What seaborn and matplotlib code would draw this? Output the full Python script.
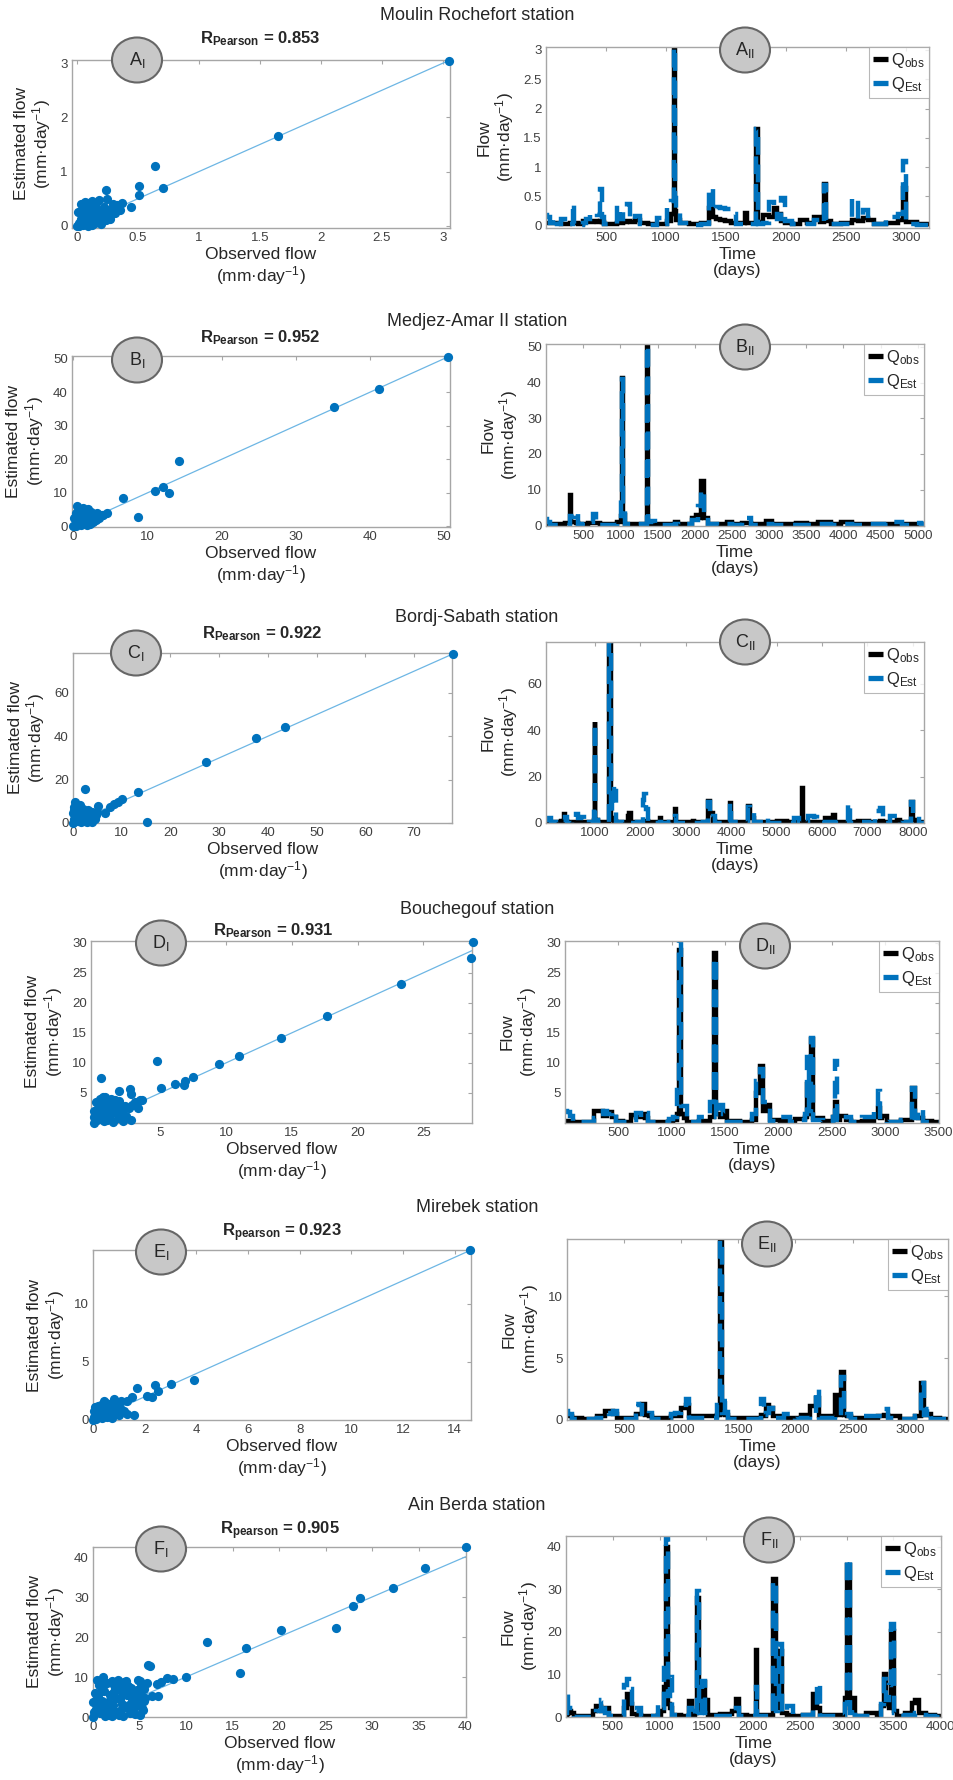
import matplotlib
matplotlib.use('Agg')
import matplotlib.pyplot as plt
from matplotlib.patches import Ellipse
import seaborn as sns

# ---- chart text ----
stations = ['Moulin Rochefort station', 'Medjez-Amar II station', 'Bordj-Sabath station',
            'Bouchegouf station', 'Mirebek station', 'Ain Berda station']
letters = ['A', 'B', 'C', 'D', 'E', 'F']
r_pearson = [0.853, 0.952, 0.922, 0.931, 0.923, 0.905]
r_word = ['Pearson', 'Pearson', 'Pearson', 'Pearson', 'pearson', 'pearson']

# ---- scatter data: (observed, estimated) ----
sc_a = [(3.05, 3.05), (1.65, 1.65), (0.64, 1.10), (0.71, 0.69), (0.51, 0.73), (0.51, 0.57),
        (0.44, 0.35), (0.24, 0.66), (0.25, 0.50), (0.37, 0.43), (0.30, 0.40),
        (0.00, 0.00), (0.02, 0.05), (0.03, 0.12), (0.05, 0.20), (0.04, 0.30), (0.06, 0.38),
        (0.08, 0.42), (0.10, 0.35), (0.12, 0.45), (0.13, 0.25), (0.15, 0.15), (0.17, 0.30),
        (0.18, 0.48), (0.20, 0.20), (0.22, 0.35), (0.24, 0.10), (0.26, 0.30), (0.28, 0.22),
        (0.30, 0.33), (0.33, 0.38), (0.35, 0.30), (0.02, 0.00), (0.05, 0.02), (0.08, 0.05),
        (0.10, 0.10), (0.12, 0.02), (0.15, 0.05), (0.18, 0.08), (0.20, 0.04), (0.06, 0.10),
        (0.09, 0.25), (0.11, 0.18), (0.14, 0.38), (0.07, 0.44), (0.16, 0.22), (0.19, 0.12),
        (0.23, 0.26), (0.01, 0.25), (0.03, 0.40), (0.09, 0.00), (0.27, 0.13), (0.31, 0.24),
        (0.04, 0.18), (0.13, 0.32), (0.21, 0.28), (0.16, 0.42), (0.10, 0.28), (0.25, 0.20)]
sc_b = [(50.5, 50.5), (41.2, 41.0), (35.2, 35.5), (14.3, 19.5), (12.1, 11.8), (11.0, 10.4),
        (12.9, 10.0), (6.7, 8.3), (8.7, 2.7), (4.5, 4.0),
        (0.0, 0.0), (0.2, 0.5), (0.3, 1.5), (0.5, 3.0), (0.5, 6.0), (0.7, 4.5), (0.8, 2.0),
        (1.0, 5.0), (1.0, 0.3), (1.2, 3.5), (1.3, 1.0), (1.5, 4.5), (1.6, 2.5), (1.8, 0.5),
        (2.0, 5.2), (2.1, 3.0), (2.3, 1.5), (2.5, 2.5), (2.8, 3.2), (3.0, 1.8), (3.2, 4.0),
        (3.5, 2.5), (3.8, 3.3), (0.1, 2.5), (0.4, 0.2), (0.6, 1.0), (0.9, 3.8), (1.4, 2.0),
        (1.7, 4.0), (2.2, 0.8), (2.6, 1.2), (3.3, 2.9), (4.0, 3.5), (0.3, 4.0), (1.1, 1.8),
        (1.9, 1.5), (2.4, 4.3), (1.3, 5.6), (0.8, 5.3)]
sc_c = [(78.0, 78.0), (43.5, 44.3), (37.5, 39.0), (27.3, 28.0), (13.3, 14.5), (15.2, 0.3),
        (2.4, 15.6), (10.0, 11.0), (9.2, 9.5), (8.5, 8.8), (7.5, 7.4), (6.5, 4.5),
        (0.0, 0.0), (0.2, 2.0), (0.3, 6.0), (0.5, 9.5), (0.7, 4.0), (0.8, 8.0), (1.0, 1.0),
        (1.2, 5.0), (1.3, 7.0), (1.5, 3.0), (1.7, 0.5), (2.0, 6.5), (2.2, 2.0), (2.5, 4.0),
        (2.8, 0.3), (3.0, 6.0), (3.3, 3.0), (3.6, 1.0), (4.0, 0.3), (4.2, 4.5), (4.6, 2.0),
        (5.0, 5.0), (5.2, 8.0), (0.4, 3.5), (0.9, 5.5), (1.4, 8.5), (1.8, 2.8), (2.4, 0.8),
        (3.8, 5.2), (0.1, 4.5), (0.6, 1.2), (1.1, 3.2), (4.8, 3.5), (2.9, 5.0), (1.6, 6.2),
        (0.3, 7.5), (3.4, 2.2), (2.6, 1.5)]
sc_d = [(28.8, 30.2), (28.6, 27.5), (23.3, 23.2), (17.7, 17.8), (14.2, 14.1), (11.0, 11.2),
        (9.5, 9.8), (7.5, 7.6), (6.9, 7.0), (6.8, 6.4), (6.1, 6.5), (5.1, 5.9), (4.8, 10.3),
        (3.6, 3.8), (3.2, 3.0), (2.8, 0.5), (2.7, 5.6), (2.8, 4.8), (1.9, 5.3), (0.5, 7.5),
        (0.0, 0.0), (0.0, 1.0), (0.0, 2.0), (0.1, 3.5), (0.2, 0.5), (0.3, 2.5), (0.4, 4.0),
        (0.5, 1.5), (0.6, 3.0), (0.7, 0.3), (0.8, 4.3), (0.9, 2.0), (1.0, 3.5), (1.1, 1.0),
        (1.2, 2.8), (1.3, 4.0), (1.4, 0.2), (1.5, 3.2), (1.6, 1.8), (1.7, 2.5), (1.8, 0.8),
        (1.9, 3.6), (2.0, 1.5), (2.1, 2.2), (2.3, 2.8), (2.4, 1.2), (2.6, 2.5), (2.9, 3.0),
        (3.1, 3.5), (3.3, 2.5), (3.5, 3.8), (0.2, 1.2), (0.5, 2.6), (0.8, 1.0), (1.0, 0.5),
        (1.3, 1.6), (1.6, 3.9), (2.2, 0.3), (0.35, 3.2), (1.15, 2.3), (0.65, 4.4), (2.0, 2.8)]
sc_e = [(14.6, 14.6), (3.9, 3.45), (3.0, 3.1), (2.4, 3.0), (2.5, 2.5), (2.3, 2.0), (2.1, 2.05),
        (1.7, 2.75), (1.6, 0.45), (1.5, 2.0), (1.3, 1.6), (1.3, 0.5), (1.0, 0.4), (0.8, 1.8),
        (0.0, 0.0), (0.05, 0.3), (0.1, 0.6), (0.12, 0.1), (0.15, 0.9), (0.2, 1.2), (0.25, 0.4),
        (0.3, 0.8), (0.32, 1.3), (0.35, 0.15), (0.4, 1.0), (0.45, 0.6), (0.5, 1.5), (0.55, 0.3),
        (0.6, 1.1), (0.65, 0.7), (0.7, 1.4), (0.75, 0.2), (0.85, 0.9), (0.9, 1.2), (1.1, 1.6),
        (1.2, 0.8), (0.02, 0.8), (0.18, 0.5), (0.28, 1.05), (0.38, 0.35), (0.48, 0.85),
        (0.58, 1.35), (0.68, 0.45), (0.95, 1.45), (1.05, 1.0), (0.08, 1.1), (0.42, 1.6), (0.72, 1.0)]
sc_f = [(40.1, 42.5), (35.7, 37.2), (32.3, 32.2), (28.7, 29.7), (27.9, 27.8), (26.1, 22.3),
        (20.2, 21.8), (16.5, 17.2), (15.8, 10.9), (12.3, 18.8), (10.0, 10.1), (8.6, 9.6),
        (8.0, 9.8), (7.3, 8.8), (6.9, 8.3), (5.9, 13.0), (6.1, 12.8), (7.0, 5.2), (6.3, 5.2),
        (5.8, 8.5), (5.5, 4.0), (5.0, 9.0),
        (0.0, 0.0), (0.0, 3.7), (0.3, 2.0), (0.5, 5.0), (0.6, 8.0), (0.8, 1.0), (1.0, 4.0),
        (1.1, 10.0), (1.2, 6.5), (1.4, 2.5), (1.5, 8.5), (1.7, 0.5), (1.8, 5.5), (2.0, 9.0),
        (2.2, 3.0), (2.4, 7.0), (2.6, 1.2), (2.7, 9.2), (2.9, 4.5), (3.0, 6.5), (3.2, 0.3),
        (3.3, 8.8), (3.5, 2.5), (3.7, 5.5), (3.8, 7.8), (4.0, 1.0), (4.2, 4.0), (4.4, 6.5),
        (4.6, 3.0), (4.8, 9.3), (5.0, 0.5), (5.1, 5.8), (5.3, 2.2), (5.5, 7.0), (0.2, 6.0),
        (0.7, 3.0), (0.9, 6.5), (1.3, 0.3), (1.6, 3.8), (2.1, 6.0), (2.5, 4.8), (2.8, 0.4),
        (3.1, 3.3), (3.6, 9.0), (4.1, 7.2), (4.5, 0.8), (4.9, 4.3), (5.2, 8.2), (0.4, 9.2),
        (1.9, 2.0), (3.9, 3.0), (5.4, 1.8), (2.3, 8.0), (0.1, 1.2), (1.0, 7.5), (4.3, 5.0),
        (5.6, 4.8), (3.4, 6.2), (2.0, 0.2), (0.6, 1.8), (1.5, 1.2), (2.2, 5.2), (3.0, 1.8),
        (3.9, 5.6), (4.7, 6.8), (1.2, 8.8), (2.9, 7.6), (0.3, 4.2), (4.4, 2.2)]

# ---- time series data: (day, Q_obs, Q_est) ----
ts_a = [(1, 0.05, 0.18), (20, 0.04, 0.15), (40, 0.04, 0.05), (75, 0.05, 0.13), (100, 0.04, 0.03),
        (150, 0.03, 0.12), (170, 0.03, 0.01), (222, 0.04, 0.02), (228, 0.05, 0.38), (236, 0.04, 0.02),
        (300, 0.02, 0.01), (320, 0.08, 0.05), (350, 0.06, 0.12), (380, 0.07, 0.20), (410, 0.08, 0.21),
        (440, 0.07, 0.18), (458, 0.08, 0.62), (470, 0.06, 0.15), (500, 0.03, 0.02), (580, 0.03, 0.02),
        (595, 0.04, 0.36), (620, 0.05, 0.12), (660, 0.07, 0.25), (690, 0.08, 0.37), (710, 0.06, 0.10),
        (765, 0.10, 0.17), (800, 0.04, 0.03), (900, 0.02, 0.01), (950, 0.03, 0.13), (980, 0.03, 0.02),
        (1030, 0.08, 0.30), (1060, 0.20, 0.42), (1068, 3.05, 3.05), (1076, 0.25, 0.47),
        (1095, 0.10, 0.30), (1130, 0.05, 0.05), (1250, 0.02, 0.01), (1330, 0.04, 0.03),
        (1380, 0.30, 0.65), (1395, 0.15, 0.25), (1430, 0.12, 0.32), (1470, 0.10, 0.30),
        (1520, 0.08, 0.28), (1560, 0.05, 0.20), (1600, 0.04, 0.03), (1650, 0.05, 0.03),
        (1665, 0.22, 0.05), (1680, 0.05, 0.03), (1740, 0.05, 0.03), (1755, 1.65, 1.65),
        (1775, 0.06, 0.03), (1840, 0.19, 0.05),
        (1880, 0.15, 0.40), (1910, 0.30, 0.35), (1940, 0.20, 0.12), (1975, 0.08, 0.48),
        (2010, 0.05, 0.08), (2080, 0.03, 0.02), (2145, 0.10, 0.02), (2200, 0.05, 0.03),
        (2260, 0.15, 0.10), (2300, 0.06, 0.05), (2325, 0.71, 0.69), (2345, 0.08, 0.10),
        (2400, 0.03, 0.02), (2520, 0.04, 0.03), (2580, 0.10, 0.48), (2620, 0.08, 0.12),
        (2660, 0.13, 0.27), (2700, 0.10, 0.12), (2760, 0.03, 0.02), (2900, 0.04, 0.15),
        (2960, 0.10, 0.20), (2985, 0.64, 1.10), (3010, 0.07, 0.05), (3060, 0.06, 0.02),
        (3120, 0.02, 0.01), (3190, 0.02, 0.01)]
ts_b = [(1, 0.5, 1.8), (30, 0.4, 0.8), (80, 0.3, 0.2), (200, 0.4, 0.1), (320, 0.6, 0.2),
        (335, 8.5, 2.5), (350, 1.0, 2.2), (400, 0.8, 3.5), (420, 0.6, 3.7), (440, 0.4, 0.3),
        (520, 0.3, 0.1), (620, 0.6, 1.0), (655, 0.7, 3.3), (680, 0.6, 0.4), (780, 0.3, 0.1),
        (900, 0.3, 0.1), (1000, 1.0, 1.5), (1012, 2.5, 8.0), (1035, 41.2, 41.0), (1050, 3.0, 4.0),
        (1080, 0.5, 0.5), (1200, 0.3, 0.1), (1350, 0.5, 0.5), (1365, 50.5, 50.5), (1380, 0.6, 1.0),
        (1440, 0.5, 1.3), (1500, 0.3, 0.2), (1700, 0.3, 0.1), (1760, 1.0, 0.4), (1800, 0.3, 0.2),
        (1950, 0.5, 0.3), (1990, 2.0, 1.5), (2035, 3.0, 1.5), (2060, 2.0, 5.5), (2100, 12.5, 10.0),
        (2150, 2.0, 3.5), (2200, 0.5, 0.3), (2400, 0.3, 0.1), (2475, 1.0, 0.3), (2520, 0.3, 0.1),
        (2745, 0.6, 2.0), (2780, 0.3, 0.1), (2900, 0.3, 0.1), (3015, 1.3, 0.3), (3060, 0.5, 0.2),
        (3300, 0.3, 0.1), (3420, 0.6, 0.2), (3600, 0.3, 0.1), (3710, 1.0, 0.3), (3775, 0.8, 0.3),
        (3900, 0.3, 0.2), (4045, 1.0, 0.3), (4200, 0.3, 0.2), (4495, 0.3, 0.5), (4600, 0.3, 0.2),
        (4740, 0.4, 0.8), (4850, 0.3, 0.2), (5010, 0.4, 0.6), (5085, 0.3, 0.3)]
ts_c = [(-80, 0.5, 1.5), (0, 0.4, 2.0), (60, 0.3, 0.5), (200, 0.3, 0.2), (300, 1.0, 1.5),
        (315, 4.0, 1.5), (350, 1.0, 2.5), (420, 0.3, 0.2), (560, 0.4, 0.3), (595, 0.5, 4.0),
        (650, 0.5, 2.0), (730, 0.6, 2.5), (780, 0.3, 0.2), (950, 0.5, 0.3), (985, 1.5, 6.0),
        (1000, 43.5, 43.0), (1015, 1.5, 1.5), (1100, 0.5, 0.2), (1300, 0.5, 0.5), (1330, 78.0, 78.0),
        (1360, 2.0, 4.0), (1405, 1.5, 16.0), (1440, 1.0, 14.0), (1480, 0.5, 0.3), (1700, 0.5, 0.2),
        (1735, 3.0, 0.3), (1775, 4.5, 0.5), (1820, 0.5, 0.2), (2040, 0.4, 0.3), (2070, 0.5, 10.0),
        (2105, 0.8, 12.5), (2140, 0.8, 6.0), (2200, 0.4, 0.3), (2420, 0.4, 0.2), (2440, 2.2, 0.3),
        (2460, 0.4, 0.2), (2500, 0.4, 0.2),
        (2740, 0.5, 0.3), (2770, 6.0, 3.0), (2820, 0.4, 0.2), (3150, 0.3, 0.1), (3170, 0.8, 0.2),
        (3190, 0.3, 0.1), (3300, 0.3, 0.1),
        (3470, 0.5, 0.5), (3500, 9.5, 9.0), (3580, 4.5, 2.0), (3615, 1.0, 3.0), (3660, 0.4, 0.2),
        (3950, 0.4, 0.3), (3985, 8.5, 8.5), (4020, 0.5, 0.3), (4360, 0.5, 0.5), (4390, 7.5, 7.0),
        (4460, 2.0, 5.0), (4530, 0.5, 0.4), (4760, 0.3, 0.3), (4795, 0.5, 2.0), (4840, 0.3, 0.2),
        (5160, 0.8, 0.2), (5300, 0.3, 0.1), (5460, 0.5, 2.0), (5540, 0.4, 0.3), (5570, 15.0, 1.0),
        (5600, 0.4, 0.3), (5790, 0.5, 3.0), (5860, 0.5, 2.5), (5920, 0.3, 0.2), (6200, 2.0, 0.3),
        (6270, 3.5, 0.5), (6320, 0.3, 0.2), (6570, 0.4, 0.3), (6600, 0.6, 8.5), (6640, 0.4, 0.2),
        (6960, 1.0, 0.3), (7100, 0.3, 0.1), (7260, 0.5, 5.0), (7315, 0.8, 6.5), (7360, 0.3, 0.2),
        (7630, 0.5, 3.0), (7700, 1.5, 0.5), (7760, 0.3, 0.2), (7950, 0.5, 0.5), (7980, 9.0, 9.0),
        (8040, 1.5, 4.0), (8110, 0.5, 3.0), (8160, 0.3, 0.2), (8250, 0.3, 0.2)]
ts_d = [(1, 0.3, 2.0), (30, 0.3, 1.8), (60, 0.3, 1.2), (90, 0.2, 0.1), (250, 0.2, 0.1),
        (290, 2.0, 0.8), (340, 2.0, 1.5), (370, 1.2, 2.0), (420, 1.8, 1.5), (465, 1.0, 2.0),
        (490, 0.3, 0.2), (600, 0.2, 0.1), (640, 1.3, 0.5), (690, 1.0, 1.7), (730, 1.5, 1.0),
        (765, 0.8, 1.6), (800, 0.2, 0.1), (960, 0.2, 0.1), (980, 0.3, 0.7), (1040, 0.5, 1.0),
        (1060, 1.5, 5.5), (1083, 28.8, 30.2), (1100, 1.5, 2.8), (1125, 0.8, 2.8), (1160, 0.2, 0.2),
        (1345, 0.3, 1.0), (1380, 1.0, 3.5), (1405, 28.3, 27.5), (1430, 1.5, 1.0), (1470, 1.0, 3.0),
        (1500, 2.0, 1.5), (1540, 0.3, 0.2), (1740, 0.2, 0.1), (1765, 0.5, 1.5), (1815, 5.0, 7.0),
        (1845, 9.5, 9.0), (1875, 2.0, 3.5), (1910, 3.0, 3.3), (1940, 0.5, 0.3), (2095, 0.3, 1.0),
        (2130, 0.2, 0.1), (2190, 0.7, 0.3), (2240, 0.7, 0.5), (2255, 1.0, 1.5), (2275, 6.5, 11.0),
        (2295, 1.5, 2.0), (2315, 14.0, 14.2), (2340, 0.8, 0.5), (2500, 0.3, 0.2), (2520, 1.0, 1.0),
        (2535, 3.5, 10.3), (2560, 0.5, 0.5), (2600, 1.2, 0.3), (2660, 0.5, 1.0), (2700, 0.2, 0.1),
        (2865, 0.3, 1.0), (2920, 1.0, 2.0), (2940, 2.5, 5.3), (2960, 0.8, 0.5), (2990, 1.2, 0.3),
        (3050, 0.2, 0.1), (3240, 0.5, 0.5), (3265, 5.8, 5.8), (3290, 1.0, 0.8), (3335, 0.8, 2.3),
        (3370, 0.3, 0.2), (3505, 0.2, 0.1)]
ts_e = [(1, 0.3, 0.7), (20, 0.3, 0.5), (60, 0.2, 0.1), (200, 0.1, 0.05), (320, 0.3, 0.2),
        (345, 0.7, 0.6), (390, 0.7, 0.5), (420, 0.5, 0.7), (450, 0.2, 0.1), (590, 0.2, 0.1),
        (615, 0.5, 1.3), (645, 0.5, 1.2), (665, 1.3, 0.5), (700, 0.4, 0.3), (735, 0.3, 0.6),
        (760, 0.2, 0.1), (900, 0.2, 0.1), (920, 0.3, 0.5), (965, 0.3, 0.6), (1025, 1.0, 0.8),
        (1050, 1.2, 1.7), (1080, 0.3, 0.2), (1300, 0.3, 0.2), (1330, 0.4, 1.2), (1350, 14.6, 14.6),
        (1370, 0.5, 0.6), (1395, 0.4, 1.5), (1420, 0.2, 0.1), (1690, 0.2, 0.1), (1715, 0.4, 1.7),
        (1735, 0.3, 0.4), (1755, 1.2, 0.6), (1790, 1.0, 1.0), (1820, 0.3, 0.2), (1985, 0.2, 0.5),
        (2010, 0.2, 0.1), (2090, 0.4, 0.2), (2160, 1.1, 0.4), (2195, 1.8, 2.5), (2220, 0.3, 0.2),
        (2335, 0.3, 0.2), (2350, 2.0, 0.4), (2380, 0.4, 0.3), (2410, 3.9, 3.5), (2440, 0.4, 0.3),
        (2465, 0.3, 0.5), (2500, 0.2, 0.1), (2685, 0.2, 0.3), (2760, 0.3, 0.3), (2795, 0.4, 0.9),
        (2830, 0.3, 0.2), (3000, 0.1, 0.05), (3090, 0.3, 0.3), (3115, 3.0, 3.0), (3140, 0.4, 0.4),
        (3165, 0.5, 0.9), (3200, 0.2, 0.1), (3335, 0.1, 0.05)]
ts_f = [(1, 0.5, 1.0), (10, 0.8, 6.2), (40, 1.5, 2.0), (65, 1.0, 2.0), (100, 0.3, 0.1),
        (270, 0.3, 0.1), (300, 1.5, 0.5), (350, 2.5, 1.5), (390, 1.5, 4.0), (440, 2.0, 1.0),
        (480, 0.3, 0.2), (610, 0.3, 0.3), (635, 2.0, 7.5), (660, 5.5, 9.0), (690, 3.0, 6.5),
        (730, 0.8, 1.5), (780, 0.5, 2.0), (820, 0.3, 0.1), (970, 0.3, 0.2), (990, 0.5, 3.0),
        (1040, 1.5, 2.0), (1060, 7.0, 11.5), (1087, 40.0, 42.5), (1105, 3.0, 5.0), (1115, 2.0, 9.5),
        (1150, 0.5, 0.5), (1300, 0.3, 0.2), (1330, 3.8, 2.0), (1360, 0.5, 0.3), (1390, 1.0, 1.5),
        (1410, 28.0, 29.5), (1440, 1.5, 1.0), (1470, 8.3, 8.5), (1505, 4.0, 1.0), (1540, 0.5, 0.2),
        (1760, 0.8, 0.3), (1800, 1.5, 0.5), (1830, 4.2, 2.0), (1860, 0.5, 0.2), (2020, 0.3, 0.2),
        (2035, 15.8, 7.0), (2050, 0.5, 0.3), (2200, 0.4, 0.3), (2230, 32.3, 32.0), (2255, 2.0, 1.5),
        (2275, 5.0, 3.0), (2290, 15.5, 17.2), (2320, 1.0, 1.0), (2415, 0.5, 2.5), (2450, 0.3, 0.2),
        (2620, 0.5, 0.5), (2665, 5.5, 2.5), (2700, 2.0, 8.0), (2730, 0.5, 0.3), (2960, 0.5, 0.3),
        (3000, 4.5, 3.0), (3020, 35.7, 37.2), (3045, 2.0, 1.0), (3075, 4.5, 2.0), (3110, 0.3, 0.2),
        (3305, 1.0, 0.2), (3340, 0.3, 0.2), (3390, 2.5, 3.0), (3410, 10.0, 9.0), (3440, 3.0, 4.0),
        (3465, 2.0, 7.5), (3495, 20.2, 21.8), (3520, 1.5, 1.0), (3560, 0.3, 0.2), (3690, 1.0, 0.5),
        (3715, 3.3, 0.5), (3750, 4.0, 1.0), (3790, 1.0, 0.5), (3900, 0.5, 0.2), (4000, 0.3, 0.1),
        (4010, 0.3, 0.1)]

scatter_sets = [sc_a, sc_b, sc_c, sc_d, sc_e, sc_f]
series_sets = [ts_a, ts_b, ts_c, ts_d, ts_e, ts_f]

# ---- axis limits and ticks ----
sc_xlim = [(-0.04, 3.06), (-0.2, 50.8), (0, 77.8), (-0.25, 28.7), (0, 14.63), (0, 40.1)]
sc_ylim = [(-0.04, 3.06), (-0.2, 50.8), (0, 78.4), (0, 30.3), (0, 14.63), (0, 42.5)]
sc_xticks = [[0, 0.5, 1, 1.5, 2, 2.5, 3], [0, 10, 20, 30, 40, 50], [0, 10, 20, 30, 40, 50, 60, 70],
             [5, 10, 15, 20, 25], [0, 2, 4, 6, 8, 10, 12, 14], [0, 5, 10, 15, 20, 25, 30, 35, 40]]
sc_yticks = [[0, 1, 2, 3], [0, 10, 20, 30, 40, 50], [0, 20, 40, 60],
             [5, 10, 15, 20, 25, 30], [0, 5, 10], [0, 10, 20, 30, 40]]
ts_xlim = [(0, 3190), (0, 5085), (-80, 8250), (0, 3505), (0, 3335), (0, 4010)]
ts_ylim = [(-0.04, 3.05), (-0.2, 50.8), (0, 78.0), (0, 30.3), (0, 14.65), (0, 42.5)]
ts_xticks = [[500, 1000, 1500, 2000, 2500, 3000],
             [500, 1000, 1500, 2000, 2500, 3000, 3500, 4000, 4500, 5000],
             [1000, 2000, 3000, 4000, 5000, 6000, 7000, 8000],
             [500, 1000, 1500, 2000, 2500, 3000, 3500],
             [500, 1000, 1500, 2000, 2500, 3000],
             [500, 1000, 1500, 2000, 2500, 3000, 3500, 4000]]
ts_yticks = [[0, 0.5, 1, 1.5, 2, 2.5, 3], [0, 10, 20, 30, 40, 50], [0, 20, 40, 60],
             [5, 10, 15, 20, 25, 30], [0, 5, 10], [0, 10, 20, 30, 40]]

# ---- layout in pixels (left, right, top, bottom) ----
W, H = 954, 1780
sc_box = [(72, 450, 60, 228), (72, 450, 356, 527), (73, 452, 653, 823),
          (91, 472, 941, 1123), (93, 471, 1250, 1420), (93, 466, 1547, 1717)]
ts_box = [(546, 929, 47, 228), (546, 924, 344, 526), (546, 924, 642, 823),
          (565, 939, 941, 1123), (567, 948, 1239, 1420), (566, 941, 1536, 1717)]
title_y = [15, 322, 617, 910, 1207, 1505]
r_pos = [(260, 43), (260, 342), (262, 638), (273, 935), (282, 1236), (280, 1534)]
badge_sc = [(137, 60), (137, 360), (136, 653), (161, 943), (161, 1252), (161, 1549)]
badge_ts = [(745, 50), (745, 347), (745, 642), (765, 946), (767, 1244), (769, 1540)]

BLUE = '#0072BD'
FIT = '#6DB6E4'
SPINE = '#a6a6a6'
TICKTXT = '#404040'

sns.set_theme(style='white')
plt.rcParams['font.family'] = ['Liberation Sans', 'DejaVu Sans']
plt.rcParams['mathtext.fontset'] = 'custom'
plt.rcParams['mathtext.rm'] = 'Liberation Sans'
plt.rcParams['mathtext.it'] = 'Liberation Sans:italic'
plt.rcParams['mathtext.bf'] = 'Liberation Sans:bold'
plt.rcParams['lines.solid_capstyle'] = 'butt'
plt.rcParams['lines.dash_capstyle'] = 'butt'
plt.rcParams['lines.solid_joinstyle'] = 'miter'
plt.rcParams['lines.dash_joinstyle'] = 'miter'

fig = plt.figure(figsize=(W / 100, H / 100), dpi=100)
fig.patch.set_facecolor('white')


def rect(box):
    l, r, t, b = box
    return [l / W, 1 - b / H, (r - l) / W, (b - t) / H]


def style_axes(ax, xlim, ylim, xticks, yticks):
    ax.set_xlim(*xlim)
    ax.set_ylim(*ylim)
    ax.set_xticks(xticks)
    ax.set_yticks(yticks)
    ax.set_xticklabels([('%g' % v) for v in xticks])
    ax.set_yticklabels([('%g' % v) for v in yticks])
    for s in ax.spines.values():
        s.set_visible(True)
        s.set_color(SPINE)
        s.set_linewidth(1.0)
    ax.tick_params(direction='in', length=3, width=0.8, color=SPINE, top=True, right=True,
                   labelsize=9.5, labelcolor=TICKTXT, pad=3)
    ax.set_facecolor('white')
    ax.grid(False)


def badge(cx, cy, text):
    e = Ellipse((cx / W, 1 - cy / H), width=50 / W, height=45 / H, transform=fig.transFigure,
                facecolor='#c8c8c8', edgecolor='#666666', linewidth=1.5, zorder=5)
    fig.add_artist(e)
    fig.text(cx / W, 1 - cy / H, text, ha='center', va='center', fontsize=13, zorder=6)


unit = '(mm·day$^{-1}$)'

for i in range(6):
    # station title
    fig.text(0.5, 1 - title_y[i] / H, stations[i], ha='center', va='center', fontsize=13)

    # scatter panel
    ax = fig.add_axes(rect(sc_box[i]))
    obs = [p[0] for p in scatter_sets[i]]
    est = [p[1] for p in scatter_sets[i]]
    ax.axline((0, 0), slope=1, color=FIT, linewidth=0.9, zorder=2)
    sns.scatterplot(x=obs, y=est, ax=ax, color=BLUE, s=44, linewidth=0, zorder=3, clip_on=False)
    style_axes(ax, sc_xlim[i], sc_ylim[i], sc_xticks[i], sc_yticks[i])
    ax.set_xlabel('Observed flow\n' + unit, fontsize=12.5, labelpad=2, linespacing=1.1)
    ax.set_ylabel('Estimated flow\n' + unit, fontsize=12.5, labelpad=5, linespacing=1.1)
    fig.text(r_pos[i][0] / W, 1 - r_pos[i][1] / H,
             r'R$_{\mathbf{%s}}$ = %.3f' % (r_word[i], r_pearson[i]),
             ha='center', va='baseline', fontsize=12, fontweight='bold', zorder=6)
    badge(badge_sc[i][0], badge_sc[i][1], r'%s$_{\mathrm{I}}$' % letters[i])

    # time series panel
    ax2 = fig.add_axes(rect(ts_box[i]))
    days = [p[0] for p in series_sets[i]]
    q_obs = [p[1] for p in series_sets[i]]
    q_est = [p[2] for p in series_sets[i]]
    sns.lineplot(x=days, y=q_obs, ax=ax2, color='black', linewidth=3.2, estimator=None,
                 sort=False, legend=False, label=r'Q$_{\mathrm{obs}}$', drawstyle='steps-mid')
    sns.lineplot(x=days, y=q_est, ax=ax2, color=BLUE, linewidth=3.2, estimator=None,
                 sort=False, legend=False, label=r'Q$_{\mathrm{Est}}$', drawstyle='steps-mid')
    ax2.lines[-1].set_dashes([4, 2.2])
    style_axes(ax2, ts_xlim[i], ts_ylim[i], ts_xticks[i], ts_yticks[i])
    ax2.set_xlabel('Time\n(days)', fontsize=12.5, labelpad=2, linespacing=1.1)
    ax2.set_ylabel('Flow\n' + unit, fontsize=12.5, labelpad=5, linespacing=1.1)
    leg = ax2.legend(loc='upper right', borderaxespad=0, frameon=True, fancybox=False,
                     edgecolor=SPINE, handlelength=0.9, handletextpad=0.2, fontsize=12,
                     borderpad=0.25, labelspacing=0.3)
    leg.get_frame().set_linewidth(0.8)
    for h in leg.get_lines():
        h.set_linestyle('-')
        h.set_linewidth(3.8)
        h.set_drawstyle('default')
    badge(badge_ts[i][0], badge_ts[i][1], r'%s$_{\mathrm{II}}$' % letters[i])

fig.savefig('out.png', dpi=100, facecolor='white')
